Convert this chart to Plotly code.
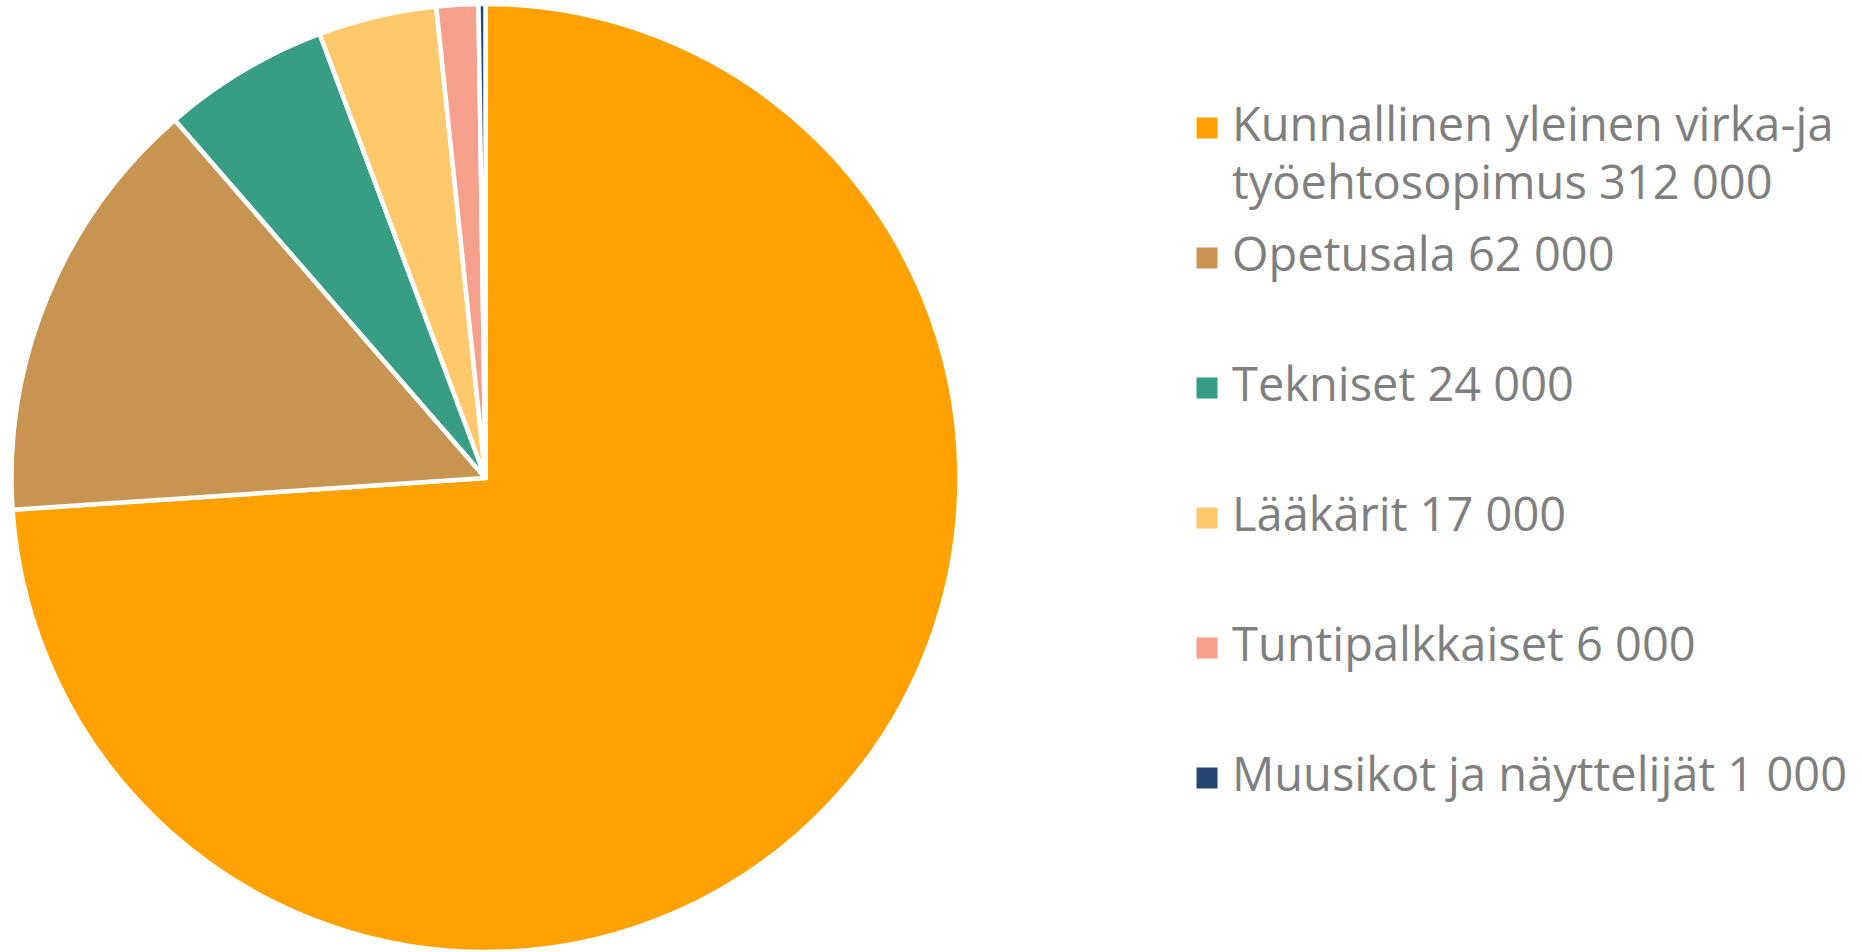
import plotly.graph_objects as go

# ---- data ----
categories = [
    "Kunnallinen yleinen virka-ja\ntyöehtosopimus",
    "Opetusala",
    "Tekniset",
    "Lääkärit",
    "Tuntipalkkaiset",
    "Muusikot ja näyttelijät",
]
values = [312000, 62000, 24000, 17000, 6000, 1000]
colors = ["#FFA100", "#C89452", "#379D84", "#FFC86B", "#F4A08A", "#254670"]

# ---- legend label building (rows of a fixed-height legend entry) ----
N_ROWS = 13
FIRST_ROW = 1
SECOND_ROW = 7
TEXT_PX = 47
ROW_FONT = 127 / N_ROWS / 1.3
TITLE_FONT = 20

W, H = 1862, 952
M_TOP = 4


def fmt(v):
    return f"{v:,}".replace(",", " ")


def legend_label(name, value):
    lines = f"{name} {fmt(value)}".split("\n")
    rows = [""] * N_ROWS
    rows[FIRST_ROW] = f'<span style="font-size:{TEXT_PX}px">{lines[0]}</span>'
    if len(lines) > 1:
        rows[SECOND_ROW] = f'<span style="font-size:{TEXT_PX}px">{lines[1]}</span>'
    return "<br>".join(rows)


fig = go.Figure()

fig.add_trace(go.Pie(
    labels=[c.replace("\n", " ") for c in categories],
    values=values,
    sort=False,
    direction="clockwise",
    rotation=0,
    textinfo="none",
    hoverinfo="label+value",
    marker=dict(colors=colors, line=dict(color="white", width=4.5)),
    domain=dict(x=[0, 971 / W], y=[0, 1]),
    showlegend=False,
))

# legend entries
for name, val, col in zip(categories, values, colors):
    fig.add_trace(go.Scatter(
        x=[None], y=[None], mode="markers",
        marker=dict(symbol="square", size=16, color=col, line=dict(color=col, width=5)),
        name=legend_label(name, val),
        hoverinfo="skip",
        showlegend=True,
    ))

plot_h = H - M_TOP
legend_top_px = 116.6 - TITLE_FONT * 1.3
fig.update_layout(
    width=W, height=H,
    margin=dict(l=0, r=0, t=M_TOP, b=0, autoexpand=False),
    paper_bgcolor="white",
    plot_bgcolor="white",
    xaxis=dict(visible=False),
    yaxis=dict(visible=False),
    legend=dict(
        x=1182 / W, xanchor="left",
        y=1 - (legend_top_px - M_TOP) / plot_h, yanchor="top",
        valign="top",
        itemwidth=40,
        title=dict(text="\u00a0", font=dict(size=TITLE_FONT)),
        font=dict(family="Open Sans", size=ROW_FONT, color="#7F7F7F"),
        bgcolor="rgba(0,0,0,0)",
        itemclick=False, itemdoubleclick=False,
    ),
    font=dict(family="Open Sans"),
)

fig.write_html(
    "out.html",
    config={"displayModeBar": False},
    post_script="document.body.style.margin='0';document.body.style.overflow='hidden';",
)
